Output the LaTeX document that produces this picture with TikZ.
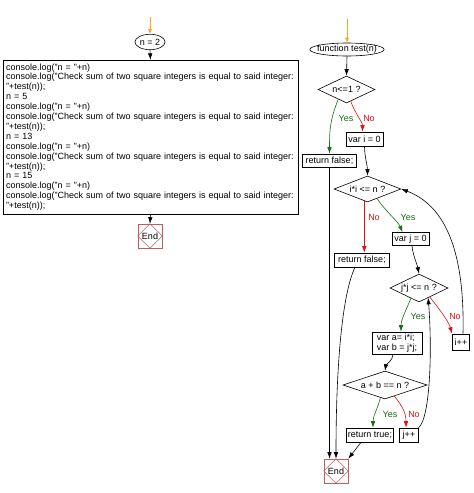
\documentclass[tikz,border=0pt]{standalone}
\usepackage{fontspec}
\setmainfont{Liberation Sans}
\usetikzlibrary{shapes.geometric,arrows.meta}
\definecolor{yesgreen}{RGB}{20,110,20}
\definecolor{nored}{RGB}{215,20,20}
\definecolor{startorange}{RGB}{250,165,20}
\definecolor{endred}{RGB}{185,95,95}
\begin{document}
\begin{tikzpicture}[x=1pt,y=-1pt,line width=0.6pt,>={Latex[length=6.5pt,width=4.5pt]},
  every node/.style={font=\fontsize{9}{9.9}\selectfont},
  term/.style={draw,ellipse,inner ysep=0.4pt},
  proc/.style={draw,rectangle,inner xsep=2.5pt,inner ysep=0pt,minimum height=14pt},
  test/.style={draw,diamond,aspect=2.5,inner sep=0pt},
  stopbox/.style={draw=endred,rectangle,minimum size=24pt,inner sep=0pt},
  startline/.style={->,draw=startorange,>={Latex[length=5pt,width=4pt]}},
  yesline/.style={->,draw=yesgreen,>={Latex[length=6.5pt,width=4.5pt,fill=yesgreen]}},
  noline/.style={->,draw=nored,>={Latex[length=6.5pt,width=4.5pt,fill=nored]}},
  yeslabel/.style={text=yesgreen},
  nolabel/.style={text=nored}]
\useasboundingbox (0,0) rectangle (474,493);
% main program
\coordinate (s1) at (150,17);
\node[term,inner xsep=0.5pt,inner ysep=2.3pt] (n2) at (150,42) {n = 2};
\node[draw,rectangle,text width=289pt,align=left,inner xsep=3pt,minimum height=150pt] (code) at (150.5,137)
  {console.log("n = "+n)\\
   console.log("Check sum of two square integers is equal to said integer:\\
   "+test(n));\\
   n = 5\\
   console.log("n = "+n)\\
   console.log("Check sum of two square integers is equal to said integer:\\
   "+test(n));\\
   n = 13\\
   console.log("n = "+n)\\
   console.log("Check sum of two square integers is equal to said integer:\\
   "+test(n));\\
   n = 15\\
   console.log("n = "+n)\\
   console.log("Check sum of two square integers is equal to said integer:\\
   "+test(n));};
\node[stopbox] (e1) at (150,236) {End};
\draw[endred] (e1.north) -- (e1.east) -- (e1.south) -- (e1.west) -- cycle;
\draw[startline] (s1) -- (n2.north);
\draw[->] (n2.south) -- (code.north);
\draw[->] (code.south) -- (e1.north);
% function test(n)
\coordinate (s2) at (347,19);
\node[term,inner xsep=-3.5pt] (fn) at (347,49.5) {function test(n)};
\node[test,minimum width=57pt,minimum height=27pt] (d1) at (346.5,89.5) {n<=1 ?};
\node[proc] (vi) at (364.5,139) {var i = 0};
\node[proc,inner xsep=3.5pt,minimum height=13pt] (rf1) at (329.5,160.5) {return false;};
\node[test,minimum width=67pt,minimum height=26pt] (d2) at (367.5,189) {i*i <= n ?};
\node[proc,minimum height=13pt] (vj) at (410.5,239) {var j = 0};
\node[proc,inner xsep=3.5pt] (rf2) at (362,260) {return false;};
\node[test,minimum width=58pt,minimum height=28pt] (d3) at (419,288) {j*j <= n ?};
\node[proc,minimum height=16pt] (ip) at (461,342) {i++};
\node[proc,align=left,minimum width=50pt,minimum height=22pt] (vab) at (397,343) {var a= i*i;\\var b = j*j;};
\node[test,minimum width=84pt,minimum height=28pt] (d4) at (385,385) {a + b == n ?};
\node[proc,inner xsep=1.5pt] (rt) at (370,435) {return true;};
\node[proc,inner xsep=3pt] (jp) at (409,435) {j++};
\node[stopbox] (e2) at (336,471) {End};
\draw[endred] (e2.north) -- (e2.east) -- (e2.south) -- (e2.west) -- cycle;
% labels
\node[yeslabel] (y1) at (346,118) {Yes};
\node[nolabel] (no1) at (369,118) {No};
\node[nolabel] (no2) at (374,217) {No};
\node[yeslabel] (y2) at (408,217) {Yes};
\node[yeslabel] (y3) at (418,316) {Yes};
\node[nolabel] (no3) at (455,316) {No};
\node[yeslabel] (y4) at (390,414) {Yes};
\node[nolabel] (no4) at (414,414) {No};
% connectors
\draw[startline] (s2) -- (fn.north);
\draw[->] (fn.south) -- (d1.north);
\draw[yesline] (d1.-130) .. controls +(-8,20) and +(0,-25) .. (rf1.north);
\draw[noline] (d1.-70) .. controls +(4,12) and +(0,-10) .. ([xshift=-2pt]vi.north);
\draw[->] (vi.south) .. controls +(0,10) and +(0,-10) .. (d2.north);
\draw[noline] (d2.-105) -- (d2.-105 |- rf2.north);
\draw[yesline] (d2.-45) .. controls +(8,12) and +(-4,-10) .. ([xshift=-8pt]vj.north);
\draw[->] ([xshift=1.5pt]vj.south) .. controls +(1,10) and +(-2,-10) .. (d3.north);
\draw[yesline] (d3.-128) .. controls +(-5,12) and +(0,-12) .. ([xshift=4pt]vab.north);
\draw[noline] (d3.-40) .. controls +(8,10) and +(-3,-12) .. (ip.north west);
\draw[->] ([xshift=2pt]ip.north) .. controls +(2,-90) and +(40,15) .. (d2.east);
\draw[->] ([xshift=-4pt]vab.south) .. controls +(0,6) and +(1,-6) .. (d4.north);
\draw[yesline] (d4.-110) .. controls +(-3,12) and +(0,-12) .. ([xshift=3pt]rt.north);
\draw[noline] (d4.-50) .. controls +(8,10) and +(0,-15) .. ([xshift=-3pt]jp.north);
\draw[->] (jp.north east) .. controls +(12,-10) and +(4,50) .. (d3.-47);
\draw[->] (rf1.south) -- (rf1.south |- e2.north west);
\draw[->] ([xshift=-7pt]rf2.south) .. controls +(-12,25) and +(0,-100) .. (e2.north);
\draw[->] ([xshift=-9pt]rt.south) -- (e2.north east);
\end{tikzpicture}
\end{document}
